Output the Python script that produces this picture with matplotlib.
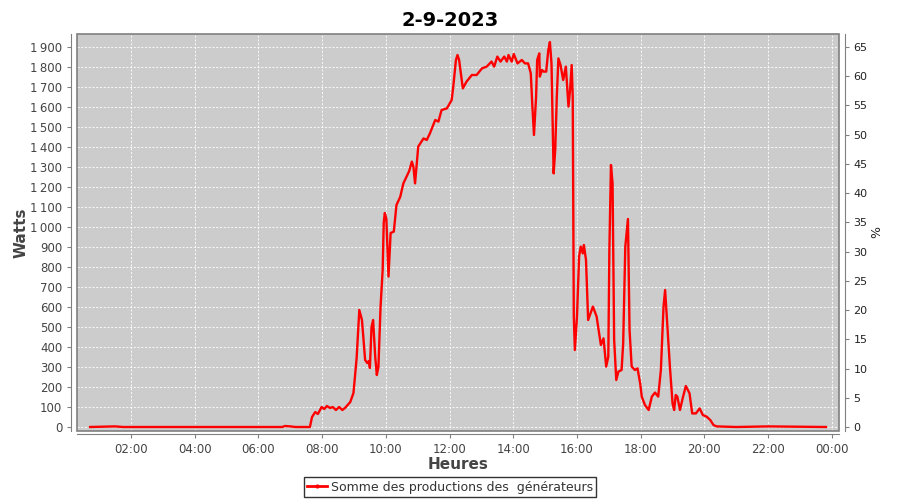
import matplotlib
matplotlib.use("Agg")
import matplotlib.pyplot as plt
from matplotlib.patches import Rectangle
from matplotlib.lines import Line2D

# ---------------- data ----------------
times = ["00:43", "01:30", "01:45", "03:00", "05:00", "06:45", "06:50", "07:00", "07:10", "07:37",
         "07:41", "07:47", "07:52", "07:59", "08:04", "08:09", "08:15", "08:20", "08:26", "08:32",
         "08:38", "08:43", "08:53", "08:59", "09:05", "09:10", "09:15", "09:21", "09:25", "09:28",
         "09:30", "09:33", "09:36", "09:40", "09:43", "09:46", "09:50", "09:54", "09:56", "09:58",
         "10:01", "10:05", "10:09", "10:15", "10:20", "10:27", "10:33", "10:39", "10:44", "10:49",
         "10:52", "10:55", "11:01", "11:11", "11:17", "11:23", "11:33", "11:39", "11:45", "11:55",
         "12:04", "12:07", "12:12", "12:15", "12:18", "12:25", "12:32", "12:42", "12:51", "13:01",
         "13:10", "13:19", "13:24", "13:30", "13:36", "13:43", "13:48", "13:51", "13:57", "14:01",
         "14:08", "14:16", "14:22", "14:28", "14:33", "14:36", "14:39", "14:43", "14:45", "14:49",
         "14:50", "14:54", "14:57", "15:02", "15:06", "15:09", "15:12", "15:16", "15:19", "15:22",
         "15:25", "15:29", "15:34", "15:39", "15:44", "15:47", "15:50", "15:52", "15:54", "15:56",
         "16:00", "16:04", "16:07", "16:11", "16:13", "16:17", "16:21", "16:30", "16:37", "16:45",
         "16:50", "16:55", "16:59", "17:01", "17:04", "17:07", "17:10", "17:14", "17:18", "17:24",
         "17:27", "17:31", "17:36", "17:39", "17:43", "17:49", "17:54", "17:59", "18:02", "18:08",
         "18:15", "18:21", "18:27", "18:33", "18:38", "18:43", "18:46", "18:50", "18:55", "19:00",
         "19:03", "19:06", "19:09", "19:14", "19:19", "19:25", "19:32", "19:37", "19:44", "19:51",
         "19:57", "20:04", "20:11", "20:17", "20:23", "21:00", "22:00", "23:49"]
watts = [0, 3, 0, 0, 0, 0, 5, 3, 0, 0,
         50, 75, 65, 100, 90, 105, 95, 100, 85, 100,
         85, 95, 125, 170, 345, 585, 535, 335, 320, 330,
         295, 500, 535, 350, 260, 300, 600, 785, 1020, 1070,
         1040, 752, 970, 977, 1110, 1150, 1218, 1252, 1280, 1327,
         1300, 1218, 1402, 1443, 1435, 1468, 1535, 1527, 1585, 1593,
         1635, 1702, 1835, 1860, 1835, 1693, 1727, 1760, 1760, 1793,
         1802, 1827, 1802, 1852, 1827, 1852, 1827, 1860, 1827, 1865,
         1818, 1835, 1818, 1818, 1768, 1602, 1460, 1652, 1835, 1868,
         1752, 1785, 1777, 1777, 1885, 1925, 1818, 1268, 1385, 1652,
         1843, 1810, 1735, 1802, 1602, 1685, 1810, 1652, 552, 385,
         552, 852, 902, 868, 910, 835, 535, 602, 552, 410,
         443, 302, 352, 885, 1310, 1218, 435, 235, 277, 285,
         418, 902, 1040, 485, 302, 285, 293, 218, 152, 110,
         85, 152, 172, 152, 285, 602, 685, 518, 302, 118,
         85, 160, 152, 85, 143, 205, 168, 68, 68, 93,
         60, 52, 35, 10, 3, 0, 3, 0]
x_ticks_h = [2, 4, 6, 8, 10, 12, 14, 16, 18, 20, 22, 24]
x_tick_labels = ["02:00", "04:00", "06:00", "08:00", "10:00", "12:00",
                 "14:00", "16:00", "18:00", "20:00", "22:00", "00:00"]
y_ticks = list(range(0, 2000, 100))
pct_ticks = list(range(0, 70, 5))

hours = [int(t[:2]) + int(t[3:]) / 60 for t in times]

# ---------------- figure ----------------
plt.rcParams['font.family'] = ['DejaVu Sans']
fig = plt.figure(figsize=(9, 5), dpi=100)
ax = fig.add_axes([77 / 900, 1 - 431 / 500, (839 - 77) / 900, (431 - 34) / 500])
ax.set_facecolor("#cccccc")

YMIN, YMAX = -20, 1965
ax.set_xlim(0.305, 24.225)
ax.set_ylim(YMIN, YMAX)

ax.plot(hours, watts, color="#ff0000", lw=1.7, zorder=3, solid_joinstyle="round")

ax.set_xticks(x_ticks_h)
ax.set_xticklabels(x_tick_labels)
ax.set_yticks(y_ticks)
ax.set_yticklabels([f"{v:,}".replace(",", "\u202f") for v in y_ticks])
ax.grid(True, color="white", linestyle=(0, (2.5, 2)), linewidth=0.6, zorder=1)
ax.set_axisbelow(True)

gray = "#808080"
for s in ["top", "right"]:
    ax.spines[s].set_visible(False)
ax.spines["left"].set_position(("outward", 4))
ax.spines["bottom"].set_position(("outward", 2))
ax.spines["left"].set_color(gray)
ax.spines["bottom"].set_color(gray)
ax.add_patch(Rectangle((0, 0), 1, 1, transform=ax.transAxes, fill=False,
                       edgecolor=gray, lw=1.2, clip_on=False, zorder=5))

ax.tick_params(axis="both", colors=gray, labelcolor="#444444", labelsize=8.5,
               length=3, width=0.8)

ax2 = ax.twinx()
ax2.set_ylim(YMIN * 65 / 1900, YMAX * 65 / 1900)
ax2.set_yticks(pct_ticks)
for s in ["top", "left", "bottom"]:
    ax2.spines[s].set_visible(False)
ax2.spines["right"].set_position(("outward", 4))
ax2.spines["right"].set_color(gray)
ax2.tick_params(axis="y", colors=gray, labelcolor="#222222", labelsize=8, length=3, width=0.8)
ax2.set_ylabel("%", fontsize=9, color="#222222", labelpad=2)

fig.text(0.5, 0.978, "2-9-2023", ha="center", va="top", fontsize=14, fontweight="bold")
ax.set_ylabel("Watts", fontsize=11, fontweight="bold", color="#444444", labelpad=1)
ax.set_xlabel("Heures", fontsize=11, fontweight="bold", color="#444444", labelpad=1)

handle = Line2D([], [], color="#ff0000", lw=2, marker="o", markersize=2)
leg = fig.legend([handle], ["Somme des productions des  générateurs"],
                 loc="center", bbox_to_anchor=(450 / 900, 1 - 487 / 500),
                 frameon=True, fancybox=False, fontsize=9, handlelength=1.6,
                 handletextpad=0.3, borderpad=0.25, borderaxespad=0)
leg.get_frame().set_edgecolor("black")
leg.get_frame().set_linewidth(1.0)
for t in leg.get_texts():
    t.set_color("#333333")

fig.savefig("out.png", dpi=100)
